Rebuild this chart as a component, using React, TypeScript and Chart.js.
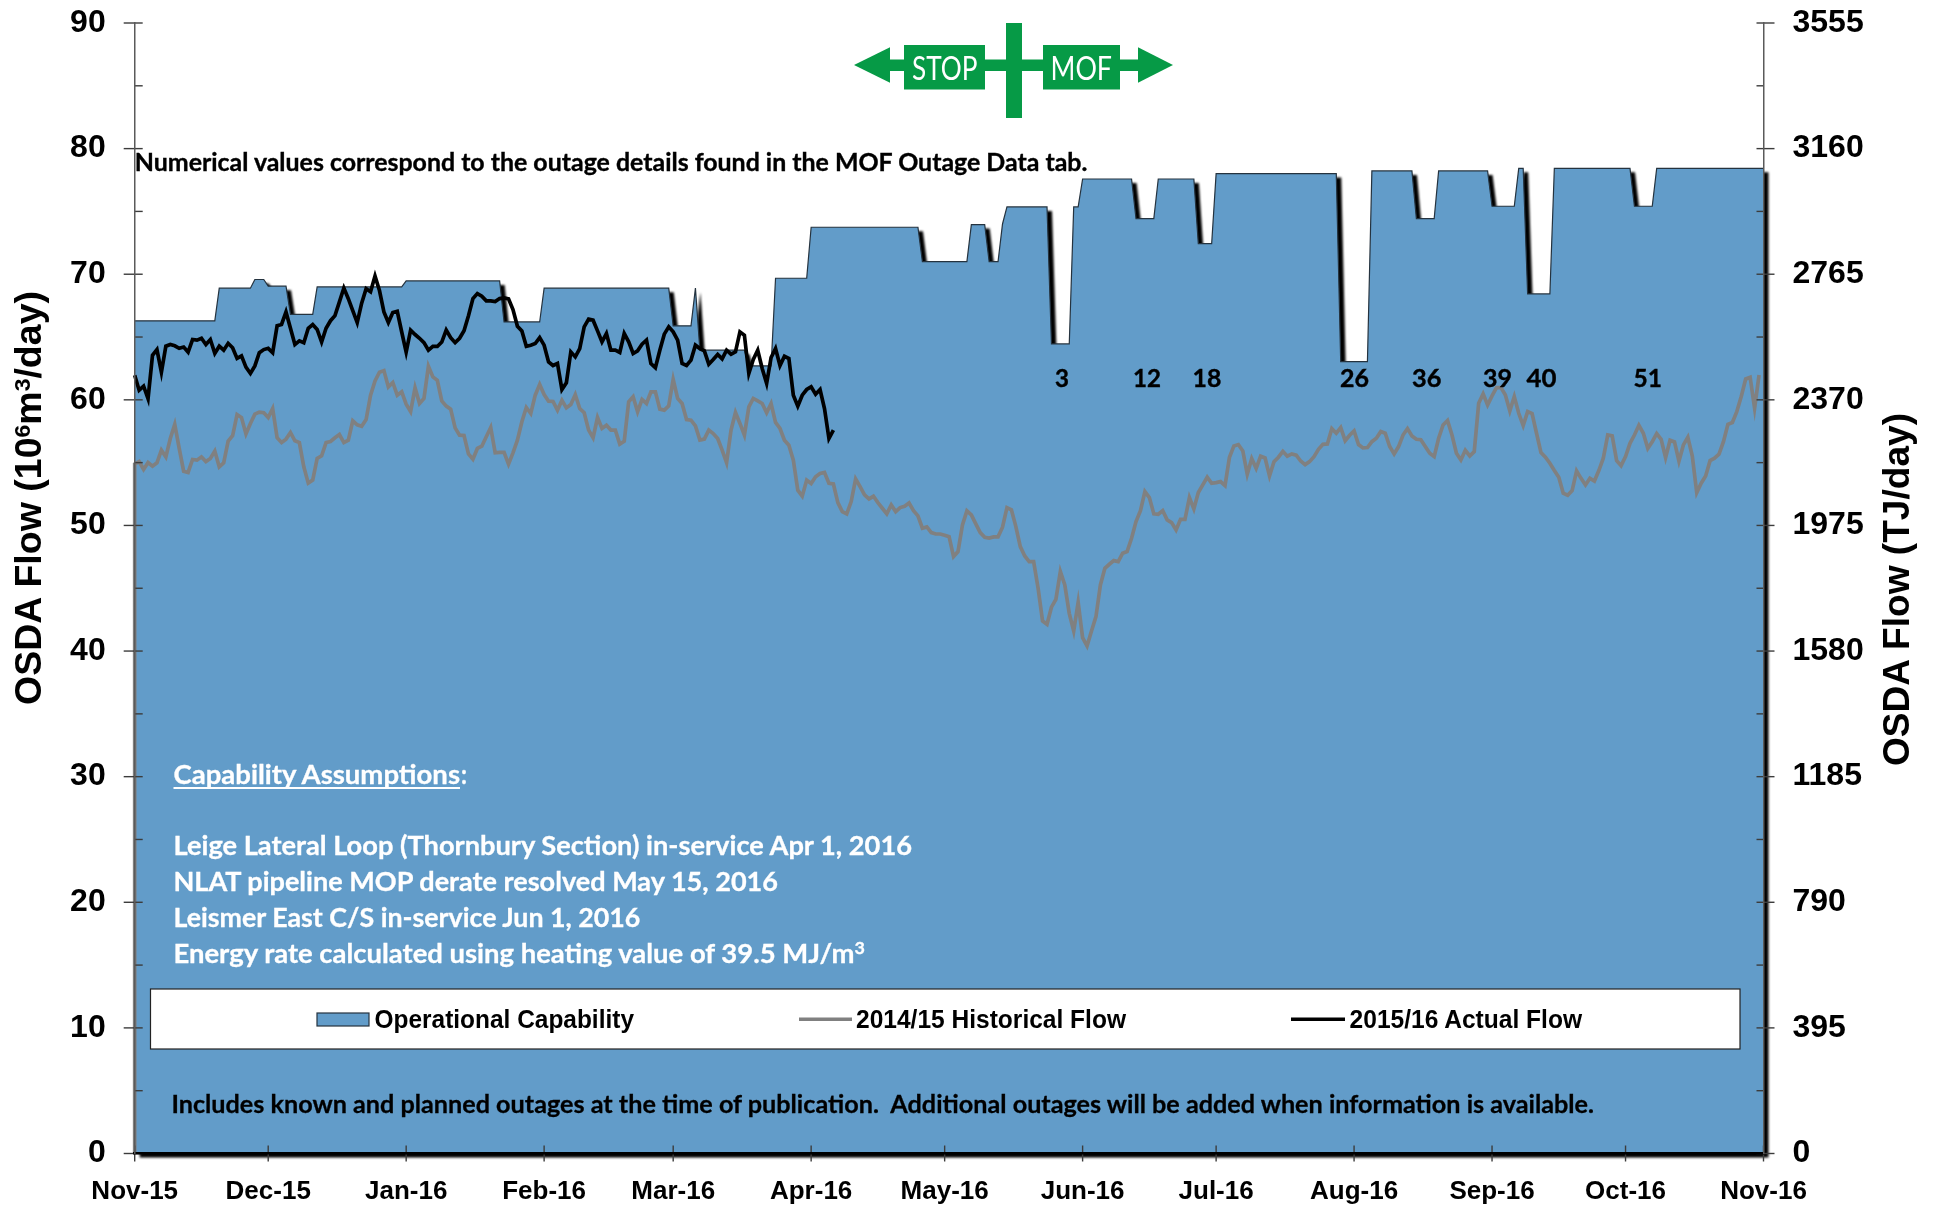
import React, { useEffect, useRef } from "react";
import { Chart, registerables } from "chart.js";

Chart.register(...registerables);

const monthDays = [0, 30, 61, 92, 121, 152, 182, 213, 243, 274, 305, 335, 366];
const monthLabels = ["Nov-15", "Dec-15", "Jan-16", "Feb-16", "Mar-16", "Apr-16", "May-16", "Jun-16", "Jul-16", "Aug-16", "Sep-16", "Oct-16", "Nov-16"];

const capabilityDays = [0, 18, 19, 26, 27, 29, 30, 34, 35, 40, 41, 60, 61, 82, 83, 91, 92, 120, 121, 125, 126, 127, 137, 138, 143, 144, 151, 152, 176, 177, 187, 188, 191, 192, 194, 195, 196, 205, 206, 210, 211, 212, 213, 224, 225, 229, 230, 238, 239, 242, 243, 270, 271, 277, 278, 287, 288, 292, 293, 304, 305, 310, 311, 312, 313, 318, 319, 336, 337, 341, 342, 366];
const capabilityFlow = [66.29, 66.29, 68.89, 68.89, 69.58, 69.58, 69.05, 69.05, 66.8, 66.8, 68.99, 68.99, 69.47, 69.47, 66.2, 66.2, 68.89, 68.89, 65.89, 65.89, 68.89, 63.95, 63.95, 62.7, 62.7, 69.68, 69.68, 73.74, 73.74, 71, 71, 73.95, 73.95, 71, 71, 74, 75.36, 75.36, 64.45, 64.45, 75.36, 75.36, 77.58, 77.58, 74.43, 74.43, 77.58, 77.58, 72.44, 72.44, 78.01, 78.01, 63.04, 63.04, 78.22, 78.22, 74.43, 74.43, 78.22, 78.22, 75.41, 75.41, 78.43, 78.43, 68.43, 68.43, 78.43, 78.43, 75.41, 75.41, 78.43, 78.43];

const historicalFlow = [
  54.88, 55.09, 54.46, 55.01, 54.72, 54.99, 55.99, 55.46, 56.92, 58.04, 56.13, 54.32, 54.22, 55.25, 55.2, 55.46, 55.09, 55.33, 55.92, 54.67,
  54.99, 56.71, 57.14, 58.83, 58.59, 57.29, 58.12, 58.86, 59.02, 58.97, 58.59, 59.31, 56.98, 56.6, 56.87, 57.4, 56.74, 56.6, 54.67, 53.37,
  53.61, 55.33, 55.54, 56.6, 56.68, 56.98, 57.24, 56.6, 56.79, 58.33, 58.01, 57.9, 58.43, 60.37, 61.51, 62.2, 62.33, 61.03, 61.38, 60.37,
  60.64, 59.66, 59.07, 60.95, 59.71, 60.11, 62.68, 61.83, 61.56, 59.92, 59.5, 59.26, 57.77, 57.19, 57.16, 55.7, 55.28, 56.13, 56.31, 57.06,
  57.8, 55.78, 55.81, 55.81, 54.88, 55.78, 56.79, 58.25, 59.39, 58.91, 60.37, 61.22, 60.42, 59.89, 59.87, 59.18, 59.97, 59.36, 59.63, 60.42,
  59.31, 58.97, 57.59, 56.98, 58.59, 57.72, 57.98, 57.59, 57.59, 56.47, 56.71, 59.84, 60.24, 59.05, 60.03, 59.71, 60.64, 60.64, 59.26, 59.18,
  59.52, 61.62, 60.11, 59.71, 58.43, 58.38, 57.93, 56.79, 56.87, 57.59, 57.32, 56.92, 55.99, 54.99, 57.59, 58.99, 58.12, 57.19, 59.44, 60.11,
  59.92, 59.71, 58.97, 59.71, 58.2, 57.72, 56.79, 56.39, 55.2, 52.81, 52.33, 53.61, 53.34, 53.87, 54.14, 54.22, 53.36, 53.3, 51.82, 51.1,
  50.92, 51.9, 53.7, 53.09, 52.43, 52.11, 52.32, 51.82, 51.37, 50.92, 51.63, 51.1, 51.42, 51.53, 51.79, 51.18, 50.76, 49.78, 49.88, 49.43,
  49.32, 49.32, 49.22, 49.11, 47.52, 47.92, 50.04, 51.16, 50.84, 50.12, 49.43, 49.06, 49.0, 49.09, 49.09, 49.86, 51.42, 51.24, 49.91, 48.32,
  47.57, 47.12, 47.12, 45.0, 42.4, 42.13, 43.49, 44.12, 46.33, 45.26, 43.0, 41.6, 43.88, 41.07, 40.41, 41.6, 42.74, 45.26, 46.59, 46.91,
  47.2, 47.12, 47.79, 47.92, 48.98, 50.31, 51.18, 52.7, 52.22, 50.92, 50.89, 51.18, 50.44, 50.23, 49.64, 50.49, 50.49, 52.22, 51.32, 52.62,
  53.23, 53.84, 53.36, 53.41, 53.49, 53.17, 55.43, 56.33, 56.44, 55.93, 54.07, 55.32, 54.55, 55.51, 55.37, 53.94, 55.08, 55.43, 55.9, 55.51,
  55.69, 55.59, 55.13, 54.84, 55.08, 55.48, 56.06, 56.46, 56.49, 57.71, 57.34, 57.79, 56.75, 57.18, 57.52, 56.44, 56.17, 56.2, 56.67, 56.94,
  57.47, 57.34, 56.28, 55.69, 56.28, 57.2, 57.71, 57.13, 56.86, 56.83, 56.28, 55.75, 55.48, 56.94, 58.0, 58.35, 57.2, 55.75, 55.21, 55.98,
  55.53, 55.88, 59.73, 60.47, 59.59, 60.31, 60.97, 60.97, 60.39, 59.12, 60.26, 58.93, 57.95, 59.06, 58.9, 57.34, 55.8, 55.43, 54.95, 54.37,
  53.83, 52.56, 52.4, 52.77, 54.34, 53.75, 53.22, 53.75, 53.54, 54.37, 55.35, 57.2, 57.13, 55.16, 54.76, 55.48, 56.54, 57.2, 57.97, 57.34,
  56.14, 56.67, 57.31, 56.86, 55.4, 56.78, 56.65, 55.11, 56.41, 57.02, 55.53, 52.61, 53.36, 53.94, 55.16, 55.35, 55.67, 56.67, 58.05, 58.19,
  59.06, 60.26, 61.66, 61.8, 59.33, 61.98,
];

const actualFlow = [
  61.96, 60.77, 61.09, 60.1, 63.55, 64.0, 62.2, 64.27, 64.4, 64.3, 64.1, 64.2, 63.8, 64.8, 64.75, 64.9, 64.4, 64.8, 63.7, 64.27,
  63.95, 64.5, 64.15, 63.3, 63.5, 62.6, 62.1, 62.7, 63.75, 64.0, 64.1, 63.75, 65.9, 66.0, 67.0, 65.7, 64.4, 64.7, 64.55, 65.7,
  66.0, 65.6, 64.6, 65.7, 66.3, 66.7, 67.8, 68.9, 68.05, 67.1, 66.15, 67.7, 68.85, 68.6, 69.85, 68.7, 67.0, 66.15, 66.95, 67.05,
  65.4, 63.8, 65.55, 65.2, 64.9, 64.55, 63.95, 64.25, 64.25, 64.6, 65.55, 64.95, 64.55, 64.9, 65.5, 66.7, 68.06, 68.46, 68.25, 67.88,
  67.88, 67.82, 68.06, 68.12, 68.04, 67.19, 65.86, 65.49, 64.27, 64.35, 64.48, 64.96, 64.35, 63.02, 62.73, 62.89, 60.82, 61.35, 63.82, 63.42,
  64.08, 65.81, 66.42, 66.34, 65.49, 64.62, 65.28, 63.95, 63.95, 63.77, 65.28, 64.62, 63.69, 63.9, 64.43, 64.75, 62.89, 62.55, 63.95, 65.23,
  65.81, 65.41, 64.75, 62.89, 62.73, 63.16, 64.35, 64.08, 63.9, 62.84, 63.21, 63.61, 63.26, 63.95, 63.63, 63.82, 65.41, 65.15, 62.1, 63.21,
  63.95, 62.49, 61.3, 63.37, 64.08, 62.73, 63.47, 63.29, 60.37, 59.5, 60.37, 60.82, 61.03, 60.45, 60.82, 59.31, 56.92, 57.59,
];

const legendLabels = ["Operational Capability", "2014/15 Historical Flow", "2015/16 Actual Flow"];
const outageLabels = ["3", "12", "18", "26", "36", "39", "40", "51"];

const BLUE = "#629cc9";
const GREEN = "#069a46";

const tickMarks = {
  id: "tickMarks",
  beforeDatasetsDraw(chart: any) {
    const meta = chart.getDatasetMeta(0);
    const base = chart.scales.y.getPixelForValue(0);
    const pts = meta.data;
    const ctx = chart.ctx;
    ctx.save();
    ctx.filter = "blur(0.8px)";
    ctx.fillStyle = "#000";
    ctx.translate(5, 4);
    ctx.beginPath();
    ctx.moveTo(pts[0].x, base);
    pts.forEach((p: any) => ctx.lineTo(p.x, p.y));
    ctx.lineTo(pts[pts.length - 1].x, base);
    ctx.closePath();
    ctx.fill();
    ctx.restore();
  },
  afterDatasetsDraw(chart: any) {
    const ctx = chart.ctx;
    const { x, y, y1 } = chart.scales;
    ctx.save();
    ctx.strokeStyle = "#3c3c3c";
    ctx.lineWidth = 1.4;
    const seg = (a: number, b: number, c: number, d: number) => {
      ctx.beginPath();
      ctx.moveTo(a, b);
      ctx.lineTo(c, d);
      ctx.stroke();
    };
    y.ticks.forEach((t: any) => {
      const p = y.getPixelForValue(t.value);
      seg(y.right - (t.value % 10 === 0 ? 11 : 0), p, y.right + 8, p);
    });
    y1.ticks.forEach((t: any) => {
      const p = y1.getPixelForValue(t.value);
      seg(y1.left - 7, p, y1.left + (t.value % 395 === 0 ? 11 : 0), p);
    });
    x.ticks.forEach((t: any) => {
      const p = x.getPixelForValue(t.value);
      seg(p, x.top - 8, p, x.top + 8);
    });
    ctx.restore();
  },
};

function Txt({ x, x2, y, size, fill = "#000", children, family = "Lato", weight = 700, heavy = 0 }: any) {
  return (
    <text x={x} y={y} textLength={x2 - x} lengthAdjust="spacingAndGlyphs" fontFamily={family} fontWeight={weight} fontSize={size} fill={fill} stroke={heavy ? fill : "none"} strokeWidth={heavy} style={{ whiteSpace: "pre" }}>
      {children}
    </text>
  );
}

export default function App() {
  const ref = useRef<HTMLCanvasElement | null>(null);
  useEffect(() => {
    const chart = new Chart(ref.current as HTMLCanvasElement, {
      type: "line",
      data: {
        datasets: [
          {
            label: legendLabels[0],
            data: capabilityDays.map((d, i) => ({ x: d, y: capabilityFlow[i] })),
            fill: "origin",
            backgroundColor: BLUE,
            borderColor: "#25333f",
            borderWidth: 1.2,
            pointRadius: 0,
            tension: 0,
            order: 3,
            clip: false,
          },
          {
            label: legendLabels[1],
            data: [{ x: 0, y: 0 }, ...historicalFlow.map((v, i) => ({ x: i, y: v }))],
            borderColor: "#808080",
            borderWidth: 3.7,
            pointRadius: 0,
            fill: false,
            tension: 0,
            order: 2,
            clip: false,
          },
          {
            label: legendLabels[2],
            data: actualFlow.map((v, i) => ({ x: i, y: v })),
            borderColor: "#000",
            borderWidth: 3.7,
            pointRadius: 0,
            fill: false,
            tension: 0,
            order: 1,
            clip: false,
          },
        ],
      },
      options: {
        animation: false,
        responsive: false,
        devicePixelRatio: 1,
        layout: { padding: { top: 23, left: 0, right: 0, bottom: 0 } },
        plugins: { legend: { display: false }, tooltip: { enabled: false } },
        scales: {
          x: {
            type: "linear",
            min: 0,
            max: 366,
            grid: { display: false, drawTicks: false },
            border: { color: "#000", width: 2.5, z: 1 },
            afterFit: (s: any) => { s.height = 51.5; s.paddingLeft = 0; s.paddingRight = 0; },
            afterBuildTicks: (s: any) => { s.ticks = monthDays.map((v) => ({ value: v })); },
            ticks: {
              autoSkip: false,
              maxRotation: 0,
              padding: 23,
              color: "#000",
              font: { family: "'Liberation Sans'", weight: "bold", size: 26 },
              callback: (v: any) => monthLabels[monthDays.indexOf(Number(v))],
            },
          },
          y: {
            position: "left",
            min: 0,
            max: 90,
            grid: { display: false, drawTicks: false },
            border: { color: "#5a5a5a", width: 1.5, z: 1 },
            afterFit: (s: any) => { s.width = 134.7; s.paddingTop = 0; s.paddingBottom = 0; },
            ticks: {
              stepSize: 5,
              autoSkip: false,
              padding: 29,
              color: "#000",
              font: { family: "'Liberation Sans'", weight: "bold", size: 32 },
              callback: (v: any) => (Number(v) % 10 === 0 ? String(v) : ""),
            },
          },
          y1: {
            position: "right",
            min: 0,
            max: 3555,
            grid: { display: false, drawTicks: false },
            border: { color: "#5a5a5a", width: 1.5, z: 1 },
            afterFit: (s: any) => { s.width = 176.5; s.paddingTop = 0; s.paddingBottom = 0; },
            ticks: {
              stepSize: 197.5,
              autoSkip: false,
              padding: 29,
              color: "#000",
              font: { family: "'Liberation Sans'", weight: "bold", size: 32 },
              callback: (v: any) => (Math.round(Number(v)) % 395 === 0 ? String(Math.round(Number(v))) : ""),
            },
          },
        },
      },
      plugins: [tickMarks],
    } as any);
    return () => chart.destroy();
  }, []);

  const arial = "'Liberation Sans'";
  const outageX = [[1055, 1069], [1133, 1161], [1192.6, 1221.4], [1340, 1369], [1412, 1441.4], [1483, 1512], [1526.4, 1556.4], [1633.6, 1662]];
  return (
    <div style={{ position: "absolute", left: 0, top: 0, width: 1940, height: 1205, overflow: "hidden", background: "#fff" }}>
      <canvas ref={ref} width={1940} height={1205} style={{ display: "block", position: "absolute", left: 0, top: 0 }} />
      <svg width={1940} height={1205} style={{ position: "absolute", left: 0, top: 0 }}>
        <rect x={1006} y={23} width={16} height={95} fill={GREEN} />
        <rect x={888} y={59.5} width={252} height={11.5} fill={GREEN} />
        <polygon points="854,65 890,47.3 890,82.7" fill={GREEN} />
        <polygon points="1173,65 1138,47.3 1138,82.7" fill={GREEN} />
        <rect x={904} y={45} width={81} height={44.5} fill={GREEN} />
        <rect x={1043} y={45} width={77} height={44.5} fill={GREEN} />
        <Txt x={912} x2={977.5} y={79.5} size={32} fill="#fff" weight={400}>STOP</Txt>
        <Txt x={1050.5} x2={1112} y={79.5} size={32} fill="#fff" weight={400}>MOF</Txt>

        <Txt x={134.8} x2={1087.4} y={170.5} size={24} heavy={0.35}>Numerical values correspond to the outage details found in the MOF Outage Data tab.</Txt>
        {outageLabels.map((t, i) => (
          <Txt key={t} x={outageX[i][0]} x2={outageX[i][1]} y={386.7} size={25} heavy={0.4}>{t}</Txt>
        ))}

        <Txt x={173.5} x2={460} y={784} size={26} fill="#fff" heavy={0.3}>Capability Assumptions</Txt>
        <rect x={173.5} y={787} width={286.5} height={2} fill="#fff" />
        <Txt x={461} x2={467} y={784} size={26} fill="#fff" heavy={0.3}>:</Txt>
        <Txt x={173.5} x2={912} y={855} size={26} fill="#fff" heavy={0.3}>Leige Lateral Loop (Thornbury Section) in-service Apr 1, 2016</Txt>
        <Txt x={173.5} x2={778} y={891} size={26} fill="#fff" heavy={0.3}>NLAT pipeline MOP derate resolved May 15, 2016</Txt>
        <Txt x={173.5} x2={640.4} y={927} size={26} fill="#fff" heavy={0.3}>Leismer East C/S in-service Jun 1, 2016</Txt>
        <Txt x={173.5} x2={865} y={963} size={26} fill="#fff" heavy={0.3}>
          Energy rate calculated using heating value of 39.5 MJ/m<tspan dy={-9} fontSize={17}>3</tspan>
        </Txt>

        <rect x={150.5} y={989} width={1589.5} height={60} fill="#fff" stroke="#222" strokeWidth={1.2} />
        <rect x={317} y={1013} width={52} height={13} fill={BLUE} stroke="#25333f" strokeWidth={1.2} />
        <rect x={799} y={1017.5} width={53} height={3.5} fill="#808080" />
        <rect x={1291} y={1017.5} width={54} height={3.5} fill="#000" />
        <Txt x={374.5} x2={634} y={1028.3} size={25} family={arial}>{legendLabels[0]}</Txt>
        <Txt x={856} x2={1126} y={1028.3} size={25} family={arial}>{legendLabels[1]}</Txt>
        <Txt x={1349.6} x2={1582} y={1028.3} size={25} family={arial}>{legendLabels[2]}</Txt>

        <Txt x={171.4} x2={1594} y={1112.7} size={25} heavy={0.3}>Includes known and planned outages at the time of publication.  Additional outages will be added when information is available.</Txt>

        <g transform="translate(41 705) rotate(-90)">
          <Txt x={0} x2={414} y={0} size={36} family={arial}>
            OSDA Flow (10<tspan dy={-11} fontSize={22}>6</tspan><tspan dy={11}>m</tspan><tspan dy={-11} fontSize={22}>3</tspan><tspan dy={11}>/day)</tspan>
          </Txt>
        </g>
        <g transform="translate(1909 766) rotate(-90)">
          <Txt x={0} x2={353} y={0} size={36} family={arial}>OSDA Flow (TJ/day)</Txt>
        </g>
      </svg>
    </div>
  );
}
